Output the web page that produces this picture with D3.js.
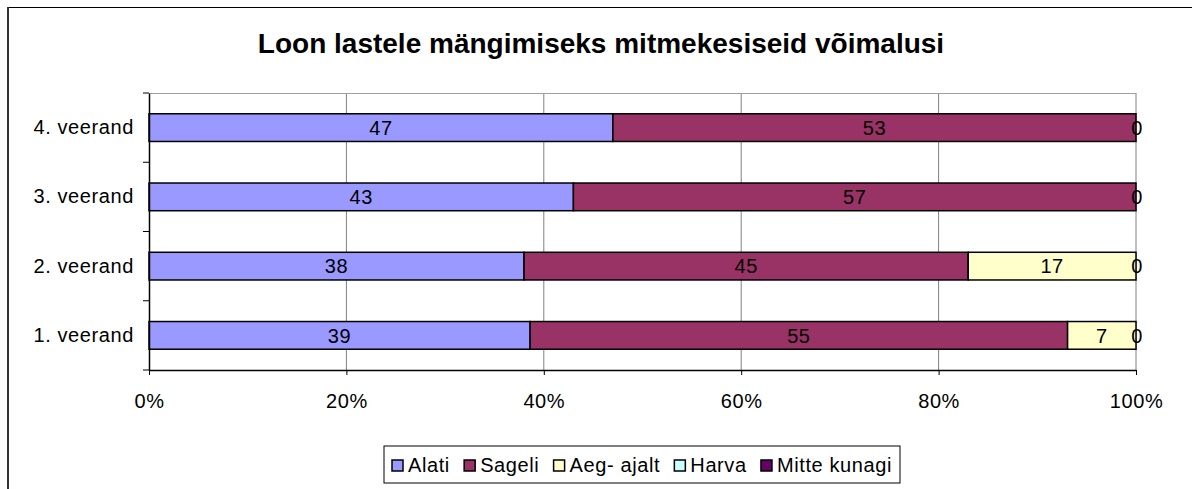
<!DOCTYPE html>
<html lang="et">
<head>
	<meta charset="UTF-8">
	<style>
	body { margin: 0; background: #fff; }
	svg { font-family: "Liberation Sans", Arial, sans-serif; }
	</style>
	<script src="https://d3js.org/d3.v7.min.js"></script>
	<title>Loon lastele mängimiseks mitmekesiseid võimalusi</title>
</head>
<body>
<div id="chart"></div>
<script>
// Data
const categories = ["4. veerand", "3. veerand", "2. veerand", "1. veerand"];
const seriesNames = ["Alati", "Sageli", "Aeg- ajalt", "Harva", "Mitte kunagi"];
const seriesColors = ["#9999FF", "#993366", "#FFFFCC", "#CCFFFF", "#660066"];
const alati = [47, 43, 38, 39];
const sageli = [53, 57, 45, 55];
const aegAjalt = [0, 0, 17, 7];
const harva = [0, 0, 0, 0];
const mitteKunagi = [0, 0, 0, 0];
const xTicks = [0, 0.2, 0.4, 0.6, 0.8, 1];

const allSeries = [alati, sageli, aegAjalt, harva, mitteKunagi];
const rows = categories.map(function(c, i) {
	const r = { cat: c };
	seriesNames.forEach(function(s, j) { r[s] = allSeries[j][i]; });
	return r;
});

const width = 1192, height = 489;
const fs = "20px", ls = "0.6px";
const svg = d3.select("#chart").append("svg")
	.attr("width", width)
	.attr("height", height);

// outer frame (runs off the page on the right and bottom)
svg.append("line").attr("x1", 8).attr("x2", 1192).attr("y1", 7.5).attr("y2", 7.5)
	.attr("stroke", "#000").attr("stroke-width", 1);
svg.append("line").attr("x1", 8).attr("x2", 8).attr("y1", 7).attr("y2", 489)
	.attr("stroke", "#333").attr("stroke-width", 2);

// title
svg.append("text")
	.attr("x", 601).attr("y", 53)
	.attr("text-anchor", "middle")
	.style("font-size", "28px")
	.style("font-weight", "bold")
	.text("Loon lastele mängimiseks mitmekesiseid võimalusi");

const x = d3.scaleLinear([0, 1], [149, 1136]);
const y = d3.scaleBand(categories, [93, 370]).paddingInner(0.6).paddingOuter(0.3);

// gridlines
svg.append("g")
	.selectAll("line")
	.data(xTicks.slice(1))
	.join("line")
	.attr("x1", d => x(d)).attr("x2", d => x(d))
	.attr("y1", 93).attr("y2", 370)
	.attr("stroke", "#808080").attr("stroke-width", 1);
svg.append("line").attr("x1", 149).attr("x2", 1136).attr("y1", 93.5).attr("y2", 93.5)
	.attr("stroke", "#a0a0a0").attr("stroke-width", 1);

// stacked bars, 100%
const stack = d3.stack().keys(seriesNames).offset(d3.stackOffsetExpand);
const layers = stack(rows);

const layerG = svg.append("g")
	.selectAll("g")
	.data(layers)
	.join("g")
	.attr("fill", (d, i) => seriesColors[i]);

layerG.selectAll("rect")
	.data(d => d)
	.join("rect")
	.attr("x", d => x(d[0]))
	.attr("y", d => y(d.data.cat))
	.attr("width", d => x(d[1]) - x(d[0]))
	.attr("height", y.bandwidth())
	.attr("stroke", "#000")
	.attr("stroke-width", 1.5);

// value labels
const labelG = svg.append("g").style("font-size", fs).style("letter-spacing", ls);
layers.forEach(function(layer, i) {
	layer.forEach(function(d) {
		const v = d.data[layer.key];
		if (v === 0 && i !== layers.length - 1) return;
		labelG.append("text")
			.attr("x", x((d[0] + d[1]) / 2) + (v === 0 ? 1 : 0))
			.attr("y", y(d.data.cat) + y.bandwidth() / 2)
			.attr("dy", "0.36em")
			.attr("text-anchor", "middle")
			.text(v);
	});
});

// axes
const xAxis = svg.append("g")
	.attr("transform", "translate(0,370)")
	.call(d3.axisBottom(x).tickValues(xTicks).tickFormat(d3.format(".0%")).tickSize(5).tickSizeOuter(0));
xAxis.select(".domain").attr("stroke", "#000").attr("stroke-width", 1.5);
xAxis.selectAll(".tick line").attr("stroke", "#000");
xAxis.selectAll("text").style("font-size", fs).style("letter-spacing", ls)
	.attr("y", 24).attr("fill", "#000");

const yAxis = svg.append("g")
	.attr("transform", "translate(149,0)")
	.call(d3.axisLeft(y).tickSize(0).tickSizeOuter(0));
yAxis.select(".domain").attr("stroke", "#000").attr("stroke-width", 1.5);
yAxis.selectAll("text").style("font-size", fs).style("letter-spacing", ls)
	.attr("x", -15).attr("fill", "#000");

// category separator ticks on the left axis
const sep = d3.range(categories.length + 1).map(i => 93 + i * y.step());
svg.append("g")
	.selectAll("line")
	.data(sep)
	.join("line")
	.attr("x1", 143).attr("x2", 149)
	.attr("y1", d => d).attr("y2", d => d)
	.attr("stroke", "#000").attr("stroke-width", 1);

// legend, items spread across the box
const box = { x: 384, y: 446, w: 516, h: 37 };
const legend = svg.append("g");
legend.append("rect")
	.attr("x", box.x).attr("y", box.y)
	.attr("width", box.w).attr("height", box.h)
	.attr("fill", "#fff").attr("stroke", "#000").attr("stroke-width", 1);
const items = seriesNames.map(function(s, i) {
	const g = legend.append("g");
	g.append("rect")
		.attr("x", 0).attr("y", -11)
		.attr("width", 11).attr("height", 11)
		.attr("fill", seriesColors[i])
		.attr("stroke", "#000").attr("stroke-width", 1.5);
	const t = g.append("text")
		.attr("x", 16).attr("y", 1)
		.style("font-size", fs)
		.style("letter-spacing", ls)
		.text(s);
	return { g: g, w: 16 + t.node().getComputedTextLength() };
});
const used = d3.sum(items, d => d.w);
const gap = (box.w - 16 - used) / (items.length - 1);
let lx = box.x + 8;
items.forEach(function(it) {
	it.g.attr("transform", "translate(" + lx + "," + (box.y + 25) + ")");
	lx += it.w + gap;
});
</script>
</body>
</html>
